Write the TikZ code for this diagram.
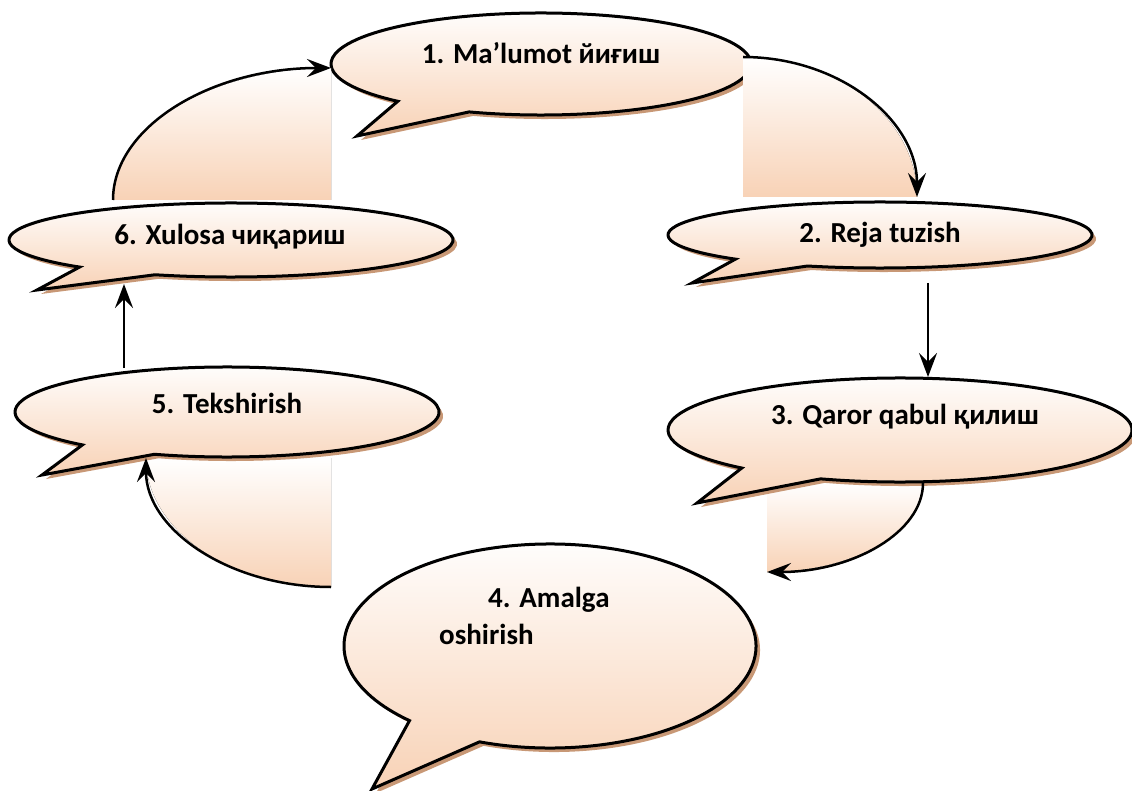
\documentclass[tikz,border=0pt]{standalone}
\usepackage{fontspec}
\setmainfont{Carlito}
\usetikzlibrary{arrows.meta}
\definecolor{peach}{RGB}{248,210,182}
\definecolor{shadowc}{RGB}{200,152,118}
\tikzset{
  bubbleline/.style={line width=3pt, draw=black, top color=white, bottom color=peach, line join=miter},
  shadowfill/.style={fill=shadowc, draw=none},
  arcfill/.style={top color=white, bottom color=peach, draw=none},
  conn/.style={line width=2.5pt, -{Stealth[length=24pt,width=18pt,inset=9pt]}},
  lbl/.style={font=\fontsize{29}{34}\selectfont\bfseries, inner sep=0pt}
}
% #1 cx, #2 cy, #3 rx, #4 ry, #5 tip x, #6 tip y
\newcommand{\drawbubble}[6]{%
  \fill[shadowfill, shift={(4,4)}] (#1,#2) ++(110:#3 and #4)
     arc[start angle=110, end angle=-227, x radius=#3, y radius=#4] -- (#5,#6) -- cycle;
  \draw[bubbleline] (#1,#2) ++(110:#3 and #4)
     arc[start angle=110, end angle=-227, x radius=#3, y radius=#4] -- (#5,#6) -- cycle;
}
\begin{document}
\begin{tikzpicture}[x=1pt, y=-1pt]
\useasboundingbox (0,0) rectangle (1132,791);

% anchor points of the bubbles
\coordinate (b1left) at (331,68);
\coordinate (b1right) at (743,57);
\coordinate (b2top) at (917,197);
\coordinate (b2bot) at (928,283);
\coordinate (b3top) at (928,377);
\coordinate (b3bot) at (923,483);
\coordinate (b4right) at (767,572);
\coordinate (b4left) at (331,587);
\coordinate (b5bot) at (146,458);
\coordinate (b5top) at (124,368);
\coordinate (b6bot) at (124,284);
\coordinate (b6top) at (113,200);

% bubble 1
\drawbubble{541}{64}{210}{51}{357}{136}
\node[lbl] (t1) at (541,53) {1. Ma’lumot йиғиш};

% gradient fills under the curved connectors
\fill[arcfill] (331,200) -- (b6top) arc[start angle=180, end angle=270, x radius=218, y radius=132] -- cycle;
\fill[arcfill] (743,197) -- (b1right) arc[start angle=270, end angle=360, x radius=174, y radius=140] -- cycle;
\fill[arcfill] (767,483) -- (b3bot) arc[start angle=0, end angle=90, x radius=156, y radius=89] -- cycle;
\fill[arcfill] (331,458) -- (b4left) arc[start angle=90, end angle=180, x radius=185, y radius=129] -- cycle;

% bubbles 2-6
\drawbubble{880}{235}{212}{33}{692}{283}
\node[lbl] (t2) at (880,235) {2. Reja tuzish};

\drawbubble{900}{430}{232}{52}{697}{503}
\node[lbl] (t3) at (905,417) {3. Qaror qabul қилиш};

\drawbubble{550}{646}{206}{102}{372}{789}
\node[lbl, anchor=west] (t4a) at (488,600) {4. Amalga};
\node[lbl, anchor=west] (t4b) at (439,634) {oshirish};

\drawbubble{227}{412}{212}{45}{42}{475}
\node[lbl] (t5) at (227,403) {5. Tekshirish};

\drawbubble{231}{240}{222}{37}{37}{290}
\node[lbl] (t6) at (230,237) {6. Xulosa чиқариш};

% connectors
\draw[conn] (b6top) arc[start angle=180, end angle=270, x radius=218, y radius=132];
\draw[conn] (b1right) arc[start angle=270, end angle=360, x radius=174, y radius=140];
\draw[conn] (b2bot) -- (b3top);
\draw[conn] (b3bot) arc[start angle=0, end angle=90, x radius=156, y radius=89];
\draw[conn] (b4left) arc[start angle=90, end angle=180, x radius=185, y radius=129];
\draw[conn] (b5top) -- (b6bot);
\end{tikzpicture}
\end{document}
